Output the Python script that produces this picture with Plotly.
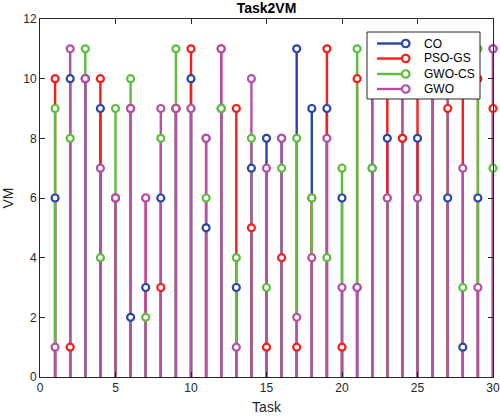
import plotly.graph_objects as go

tasks = list(range(1, 31))
co     = [6, 10, 10, 9, 6, 2, 3, 6, 9, 10, 5, 9, 3, 7, 8, 8, 11, 9, 9, 6, 3, 7, 8, 8, 8, 10, 6, 1, 6, 11]
pso_gs = [10, 1, 10, 10, 6, 9, 6, 3, 9, 11, 8, 11, 9, 5, 1, 4, 1, 6, 11, 1, 10, 11, 10, 8, 10, 11, 9, 10, 10, 9]
gwo_cs = [9, 8, 11, 4, 9, 10, 2, 8, 11, 9, 6, 9, 4, 8, 3, 7, 8, 6, 4, 7, 11, 7, 6, 10, 6, 10, 10, 3, 11, 7]
gwo    = [1, 11, 10, 7, 6, 9, 6, 9, 9, 9, 8, 11, 1, 10, 7, 8, 2, 4, 8, 3, 3, 11, 6, 11, 6, 11, 11, 7, 3, 11]

names = ["CO", "PSO-GS", "GWO-CS", "GWO"]
colors = ["#2B45A6", "#FF1A1A", "#5DBD3D", "#B450AC"]
values = [co, pso_gs, gwo_cs, gwo]

FONT = "Liberation Sans, Arial, sans-serif"
W, H = 500, 416
L, R, T, B = 40, 7, 19, 39
PW, PH = W - L - R, H - T - B

fig = go.Figure()

# stems
for name, vals, col in zip(names, values, colors):
    xs, ys = [], []
    for t, v in zip(tasks, vals):
        xs += [t, t, None]
        ys += [0, v, None]
    fig.add_trace(go.Scatter(x=xs, y=ys, mode="lines", line=dict(color=col, width=2.4),
                             showlegend=False, hoverinfo="skip", cliponaxis=False))
# markers
for name, vals, col in zip(names, values, colors):
    fig.add_trace(go.Scatter(x=tasks, y=vals, mode="markers", name=name,
                             marker=dict(symbol="circle", size=7, color="white",
                                         line=dict(color=col, width=2.2)),
                             showlegend=False, cliponaxis=False))

# custom legend box (MATLAB style: line with marker at its end)
def px(x):
    return (x - L) / PW

def py(y):
    return (H - B - y) / PH

shapes = [dict(type="rect", xref="paper", yref="paper", layer="above",
               x0=px(367), x1=px(480), y0=py(99), y1=py(32),
               fillcolor="white", line=dict(color="#262626", width=1))]
annotations = []
row_y = [43.5, 58.5, 74, 89]
for name, col, ry in zip(names, colors, row_y):
    shapes.append(dict(type="line", xref="paper", yref="paper", layer="above",
                       x0=px(377), x1=px(405), y0=py(ry), y1=py(ry),
                       line=dict(color=col, width=2.4)))
    shapes.append(dict(type="circle", xref="paper", yref="paper", layer="above",
                       x0=px(402), x1=px(409.5), y0=py(ry + 3.75), y1=py(ry - 3.75),
                       fillcolor="white", line=dict(color=col, width=2.2)))
    annotations.append(dict(text=name, xref="paper", yref="paper", x=px(422), y=py(ry),
                            xanchor="left", yanchor="middle", showarrow=False,
                            font=dict(family=FONT, size=12, color="#000000")))

axis_common = dict(showline=True, linecolor="#262626", linewidth=1, mirror="ticks",
                   ticks="inside", ticklen=5, tickcolor="#262626", showgrid=False,
                   zeroline=False, tickfont=dict(family=FONT, size=12, color="#262626"))

fig.update_layout(
    width=W, height=H,
    margin=dict(l=L, r=R, t=T, b=B),
    paper_bgcolor="white", plot_bgcolor="white",
    showlegend=False,
    title=dict(text="<b>Task2VM</b>", x=(L + W - R) / 2 / W, xanchor="center",
               y=(H - 8) / H, yanchor="middle",
               font=dict(family=FONT, size=14, color="#000000")),
    xaxis=dict(range=[0, 30], tickvals=[0, 5, 10, 15, 20, 25, 30],
               title=dict(text="Task", font=dict(family=FONT, size=14, color="#262626"), standoff=7),
               automargin=False, **axis_common),
    yaxis=dict(range=[0, 12], tickvals=[0, 2, 4, 6, 8, 10, 12],
               title=dict(text="VM", font=dict(family=FONT, size=14, color="#262626"), standoff=6),
               automargin=False, **axis_common),
    shapes=shapes,
    annotations=annotations,
)

fig.write_html("out.html", config={"displayModeBar": False},
               post_script="document.body.style.margin='0px';document.body.style.padding='0px';")
